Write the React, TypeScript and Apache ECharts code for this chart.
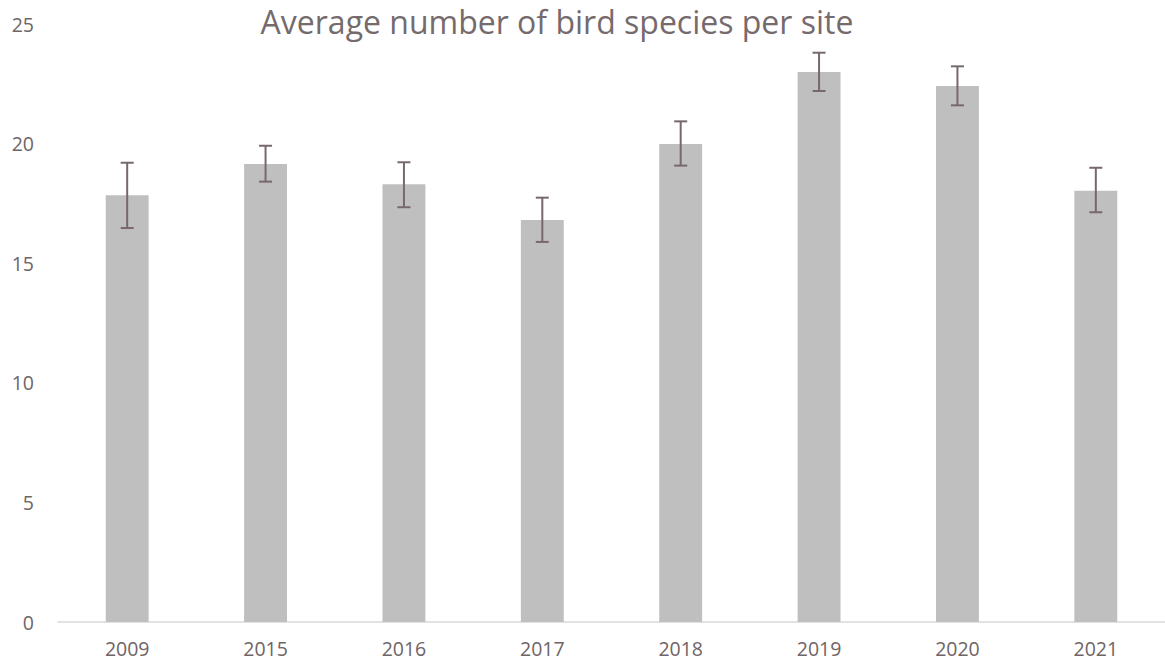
import React, { useEffect, useRef } from "react";
import * as echarts from "echarts";

const years = ["2009", "2015", "2016", "2017", "2018", "2019", "2020", "2021"];
const means = [17.84, 19.15, 18.3, 16.81, 19.98, 22.99, 22.41, 18.03];
const lower = [16.47, 18.41, 17.34, 15.89, 19.08, 22.2, 21.6, 17.13];
const upper = [19.2, 19.91, 19.22, 17.74, 20.93, 23.8, 23.23, 18.99];

const textColor = "#6f6466";
const font = "'Open Sans', 'Liberation Sans', sans-serif";

export default function App() {
  const ref = useRef<HTMLDivElement>(null);
  useEffect(() => {
    if (!ref.current) return;
    const chart = echarts.init(ref.current, undefined, { renderer: "svg" });
    const errData = years.map((_, i) => [i, lower[i], upper[i]]);
    chart.setOption({
      animation: false,
      title: {
        text: "Average number of bird species per site",
        left: 552,
        textAlign: "center",
        top: 0,
        textStyle: { fontFamily: font, fontSize: 32, fontWeight: "normal", color: "#756a6c" },
      },
      grid: { left: 58, right: 0, top: 24, bottom: 44, containLabel: false },
      xAxis: {
        type: "category",
        data: years,
        axisLine: { lineStyle: { color: "#d9d9d9", width: 1.5 } },
        axisTick: { show: false },
        axisLabel: { color: textColor, fontFamily: font, fontSize: 19.5, margin: 16 },
      },
      yAxis: {
        type: "value",
        min: 0,
        max: 25,
        interval: 5,
        splitLine: { show: false },
        axisLine: { show: false },
        axisTick: { show: false },
        axisLabel: { color: textColor, fontFamily: font, fontSize: 19.5, margin: 24 },
      },
      series: [
        {
          type: "bar",
          data: means,
          barWidth: "31%",
          itemStyle: { color: "#bfbfbf" },
        },
        {
          type: "custom",
          data: errData,
          z: 10,
          renderItem: (params: any, api: any) => {
            const x = api.value(0);
            const lo = api.coord([x, api.value(1)]);
            const hi = api.coord([x, api.value(2)]);
            const hw = 6.5;
            const style = { stroke: "#76686b", lineWidth: 2 };
            return {
              type: "group",
              children: [
                { type: "line", shape: { x1: lo[0], y1: lo[1], x2: hi[0], y2: hi[1] }, style },
                { type: "line", shape: { x1: lo[0] - hw, y1: lo[1], x2: lo[0] + hw, y2: lo[1] }, style },
                { type: "line", shape: { x1: hi[0] - hw, y1: hi[1], x2: hi[0] + hw, y2: hi[1] }, style },
              ],
            };
          },
        },
      ],
    });
    return () => chart.dispose();
  }, []);
  return <div ref={ref} style={{ width: 1165, height: 666, position: "absolute", left: 0, top: 0 }} />;
}
